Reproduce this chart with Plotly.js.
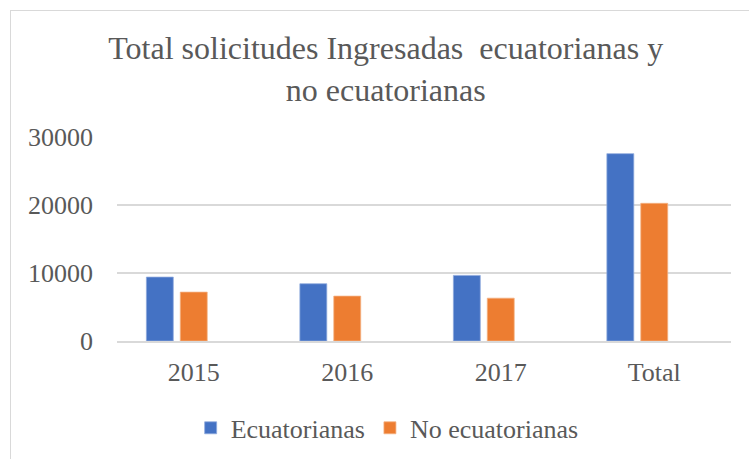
<!DOCTYPE html>
<html>
<head>
<meta charset="utf-8">
<script src="https://cdn.plot.ly/plotly-3.0.1.min.js"></script>
<style>
html,body{margin:0;padding:0;background:#fff;}
#frame{position:absolute;left:10px;top:10px;width:760px;height:470px;border:1px solid #D9D9D9;box-sizing:border-box;}
#chart{position:absolute;left:0;top:0;width:749px;height:459px;}
</style>
</head>
<body>
<div id="frame"></div>
<div id="chart"></div>
<script>
const categories = ['2015', '2016', '2017', 'Total'];
const ecuatorianas = [9400, 8420, 9650, 27550];
const noEcuatorianas = [7190, 6600, 6300, 20250];
const emptySeries = [null, null, null, null];
const yTicks = [0, 10000, 20000, 30000];

const textColor = '#595959';
const serif = 'Liberation Serif, Times New Roman, serif';

const traces = [
  {type: 'bar', name: 'Ecuatorianas', x: categories, y: ecuatorianas,
   marker: {color: '#4472C4', line: {color: '#8FAADC', width: 0.75}}},
  {type: 'bar', name: 'No ecuatorianas', x: categories, y: noEcuatorianas,
   marker: {color: '#ED7D31', line: {color: '#F4B183', width: 0.75}}},
  {type: 'bar', name: '', x: categories, y: emptySeries, showlegend: false,
   marker: {color: '#A5A5A5'}}
];

const layout = {
  width: 749, height: 459,
  margin: {l: 117, r: 18, t: 137, b: 118, autoexpand: false},
  paper_bgcolor: 'rgba(0,0,0,0)',
  plot_bgcolor: 'rgba(0,0,0,0)',
  font: {family: serif, color: textColor, size: 26},
  title: {
    text: 'Total solicitudes Ingresadas  ecuatorianas y<br>no ecuatorianas',
    font: {family: serif, size: 32, color: textColor},
    x: 0.515, xref: 'container', xanchor: 'center',
    y: 1 - 59/459, yref: 'container', yanchor: 'middle'
  },
  barmode: 'group',
  bargap: 0.337,
  bargroupgap: 0.206,
  xaxis: {
    type: 'category',
    showgrid: false,
    showline: true, linecolor: '#D9D9D9', linewidth: 1.5,
    ticks: '', ticklabelstandoff: 7,
    tickfont: {family: serif, size: 26, color: textColor},
    fixedrange: true
  },
  yaxis: {
    range: [0, 30000],
    tickvals: yTicks,
    ticktext: yTicks.map(String),
    showgrid: true, gridcolor: '#D9D9D9', gridwidth: 1.5,
    zeroline: false, showline: false,
    ticks: '', ticklabelstandoff: 23,
    tickfont: {family: serif, size: 26, color: textColor},
    fixedrange: true
  },
  showlegend: true,
  legend: {
    orientation: 'h',
    x: 0.44, xanchor: 'center',
    y: -0.426, yanchor: 'middle',
    font: {family: serif, size: 26, color: textColor},
    itemwidth: 30,
    traceorder: 'normal'
  }
};

Plotly.newPlot('chart', traces, layout, {displayModeBar: false, staticPlot: true});
</script>
</body>
</html>
